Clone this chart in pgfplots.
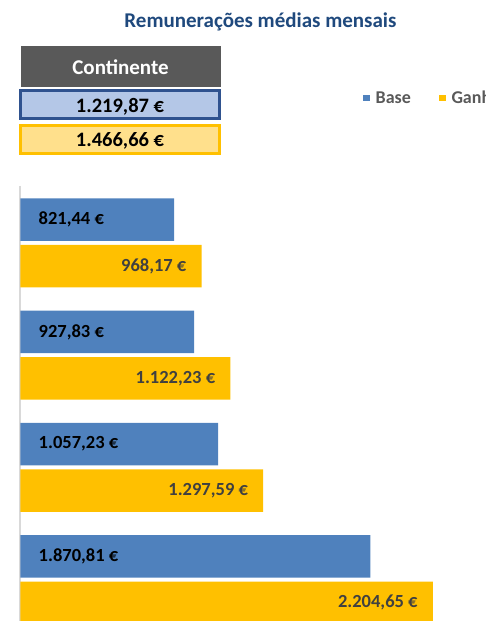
\documentclass[border=0pt]{standalone}
\usepackage{fontspec}
\setmainfont{Carlito}
\usepackage{pgfplots}
\usepackage{pgfplotstable}
\pgfplotsset{compat=1.18}
\definecolor{baseblue}{HTML}{4F81BD}
\definecolor{gaingold}{HTML}{FFC000}
\definecolor{titleblue}{HTML}{1F497D}
\definecolor{boxblue}{HTML}{B4C7E7}
\definecolor{boxblueborder}{HTML}{2F528F}
\definecolor{boxyellow}{HTML}{FFE08C}
\definecolor{darkgraybox}{HTML}{595959}
\definecolor{labelgray}{HTML}{404040}
\definecolor{axisgray}{HTML}{D9D9D9}

\pgfplotstableread{
yb yg zero base gain baselab gainlab
219.7 266.2 0 821.44 968.17 {821,44 €} {968,17 €}
331.9 378.4 0 927.83 1122.23 {927,83 €} {1.122,23 €}
444.1 490.6 0 1057.23 1297.59 {1.057,23 €} {1.297,59 €}
556.3 602.8 0 1870.81 2204.65 {1.870,81 €} {2.204,65 €}
}\datatable

\begin{document}
\begin{tikzpicture}
\useasboundingbox (0pt,0pt) rectangle (485pt,621pt);
\clip (0pt,0pt) rectangle (485pt,621pt);
% title
\node[anchor=base, font=\bfseries\fontsize{21}{24}\selectfont, text=titleblue] at (260.5pt,593pt) {Remunerações médias mensais};
% header boxes
\fill[darkgraybox] (20.5pt,534pt) rectangle (220.5pt,575pt);
\node[anchor=base, font=\bfseries\fontsize{21}{24}\selectfont, text=white] at (120.5pt,546pt) {Continente};
\draw[line width=2.5pt, draw=boxblueborder, fill=boxblue] (20.3pt,502.3pt) rectangle (219.7pt,530.7pt);
\node[anchor=base, font=\bfseries\fontsize{20.5}{22}\selectfont, text=black] at (120pt,508pt) {1.219,87 €};
\draw[line width=2.5pt, draw=gaingold, fill=boxyellow] (20.3pt,467.3pt) rectangle (219.7pt,495.7pt);
\node[anchor=base, font=\bfseries\fontsize{20.5}{22}\selectfont, text=black] at (120pt,474pt) {1.466,66 €};

\begin{axis}[
  at={(20.5pt,0pt)}, anchor=south west,
  scale only axis, width=464.5pt, height=435pt,
  xmin=0, xmax=2484, ymin=186, ymax=621, y dir=reverse,
  axis x line=none, axis y line*=left,
  axis line style={draw=axisgray, line width=2pt, -},
  xtick=\empty, ytick=\empty,
  legend columns=2,
  legend style={draw=none, fill=none, at={(0.7376,1.202)}, anchor=west,
    inner sep=0pt, outer sep=0pt,
    font=\bfseries\fontsize{18}{20}\selectfont, text=darkgraybox,
    nodes={inner sep=0pt},
    /tikz/every odd column/.append style={column sep=6pt},
    /tikz/every even column/.append style={column sep=28pt}},
]
\addplot[xbar, bar width=42.5pt, bar shift=0pt, fill=baseblue, draw=none,
  legend image code/.code={\fill[baseblue] (0pt,-3.3pt) rectangle (6.6pt,3.3pt);}]
  table[x=base, y=yb]{\datatable};
\addlegendentry{Base}
\addplot[xbar, bar width=42.5pt, bar shift=0pt, fill=gaingold, draw=none,
  nodes near coords, point meta=explicit symbolic,
  every node near coord/.append style={anchor=east, xshift=-15pt, inner sep=0pt,
    font=\bfseries\fontsize{18.5}{20}\selectfont, text=labelgray},
  legend image code/.code={\fill[gaingold] (0pt,-3.3pt) rectangle (6.6pt,3.3pt);}]
  table[x=gain, y=yg, meta=gainlab]{\datatable};
\addlegendentry{Ganho}
\addplot[draw=none, mark=none, forget plot,
  nodes near coords, point meta=explicit symbolic,
  every node near coord/.append style={anchor=west, xshift=18pt, inner sep=0pt,
    font=\bfseries\fontsize{18.5}{20}\selectfont, text=black}]
  table[x=zero, y=yb, meta=baselab]{\datatable};
\end{axis}
\end{tikzpicture}
\end{document}
